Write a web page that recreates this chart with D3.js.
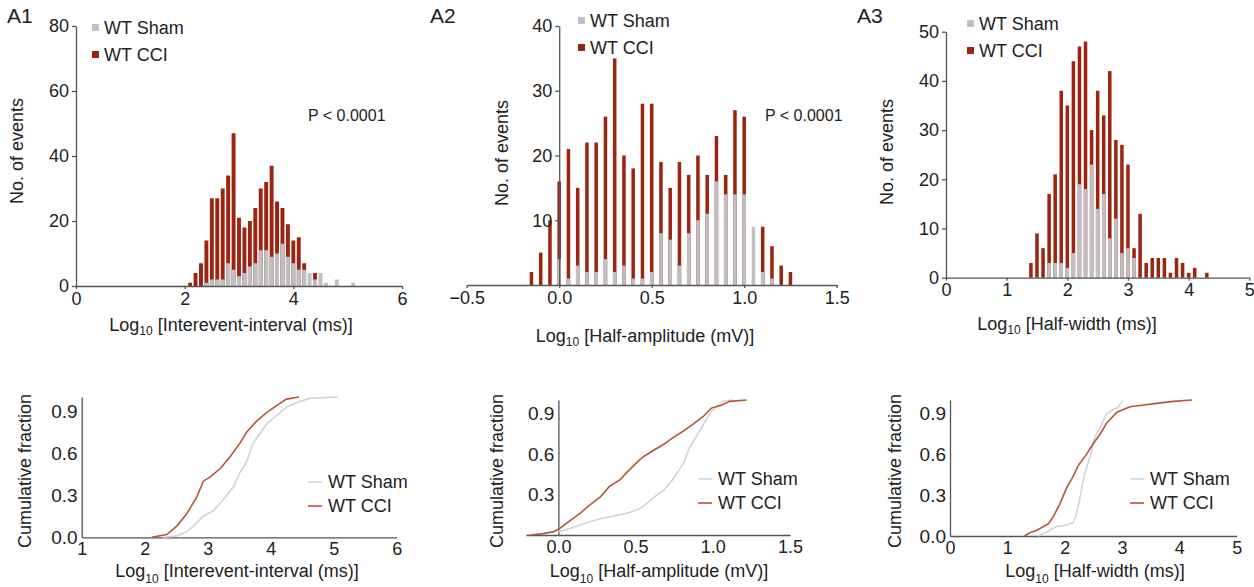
<!DOCTYPE html>
<html>
<head>
<meta charset="utf-8">
<script src="https://cdn.jsdelivr.net/npm/d3@7"></script>
<style>
  body { margin: 0; background: #fff; }
  svg { display: block; font-family: "Liberation Sans", Arial, sans-serif; }
  .axis path, .axis line { stroke: #555; stroke-width: 1.3; }
  .axis text { fill: #222; font-size: 18px; font-family: "Liberation Sans", Arial, sans-serif; }
</style>
</head>
<body>
<svg id="fig" width="1254" height="587"></svg>
<script>
// ---- histogram data (bin centres, counts) ----
const a1Bins = [2.1, 2.2, 2.3, 2.4, 2.5, 2.6, 2.7, 2.8, 2.9, 3.0, 3.1, 3.2, 3.3, 3.4, 3.5, 3.6, 3.7, 3.8, 3.9, 4.0, 4.1, 4.2, 4.3, 4.4, 4.5, 4.6, 4.7, 4.8, 4.9, 5.0, 5.1];
const a1Cci  = [1, 4, 7, 14, 27, 27, 30, 34, 47, 21, 18, 20, 24, 30, 32, 37, 26, 24, 19, 14, 15, 7, 0, 4, 0, 0, 0, 0, 0, 0, 0];
const a1Sham = [0, 0, 0, 1, 2, 2, 2, 7, 5, 3, 4, 6, 7, 11, 11, 9, 10, 13, 9, 7, 5, 5, 4, 2, 4, 1, 0, 2, 0, 0, 1];

const a2Bins = [-0.15, -0.1, -0.05, 0.0, 0.05, 0.1, 0.15, 0.2, 0.25, 0.3, 0.35, 0.4, 0.45, 0.5, 0.55, 0.6, 0.65, 0.7, 0.75, 0.8, 0.85, 0.9, 0.95, 1.0, 1.05, 1.1, 1.15, 1.2, 1.25];
const a2Cci  = [2, 5, 10, 16, 21, 15, 22, 22, 26, 35, 20, 18, 28, 28, 19, 15, 19, 17, 20, 17, 23, 17, 27, 26, 0, 9, 6, 3, 2];
const a2Sham = [0, 0, 0, 4, 1, 3, 2, 2, 4, 2, 3, 1, 1, 2, 8, 7, 3, 8, 10, 11, 16, 14, 14, 14, 9, 2, 1, 0, 0];

const a3Bins = [1.4, 1.5, 1.6, 1.7, 1.8, 1.9, 2.0, 2.1, 2.2, 2.3, 2.4, 2.5, 2.6, 2.7, 2.8, 2.9, 3.0, 3.1, 3.2, 3.3, 3.4, 3.5, 3.6, 3.7, 3.8, 3.9, 4.0, 4.1, 4.2, 4.3];
const a3Cci  = [3, 9, 6, 17, 21, 38, 35, 44, 47, 48, 30, 38, 33, 42, 28, 27, 23, 6, 13, 3, 4, 4, 4, 1, 4, 3, 1, 2, 0, 1];
const a3Sham = [0, 0, 0, 3, 3, 3, 2, 5, 19, 18, 23, 14, 17, 8, 12, 5, 6, 4, 0, 0, 0, 0, 0, 0, 0, 0, 0, 0, 0, 0];

// ---- cumulative fraction data (x, fraction) ----
const c1CciX  = [2.11, 2.35, 2.51, 2.67, 2.83, 2.93, 3.04, 3.2, 3.35, 3.51, 3.62, 3.78, 3.94, 4.1, 4.25, 4.45];
const c1CciY  = [0, 0.02, 0.08, 0.17, 0.29, 0.40, 0.43, 0.49, 0.57, 0.67, 0.75, 0.83, 0.89, 0.94, 0.985, 1.0];
const c1ShamX = [2.3, 2.51, 2.67, 2.77, 2.93, 3.09, 3.25, 3.41, 3.51, 3.62, 3.72, 3.83, 3.94, 4.1, 4.25, 4.47, 4.62, 5.07];
const c1ShamY = [0, 0.01, 0.04, 0.08, 0.15, 0.19, 0.27, 0.36, 0.46, 0.54, 0.67, 0.74, 0.81, 0.87, 0.93, 0.97, 0.99, 1.0];

const c2CciX  = [-0.18, -0.1, -0.03, 0.01, 0.08, 0.14, 0.2, 0.27, 0.33, 0.4, 0.44, 0.51, 0.55, 0.62, 0.68, 0.74, 0.81, 0.87, 0.94, 0.99, 1.05, 1.11, 1.22];
const c2CciY  = [0, 0.01, 0.025, 0.05, 0.11, 0.16, 0.22, 0.28, 0.36, 0.41, 0.46, 0.54, 0.58, 0.63, 0.67, 0.72, 0.77, 0.82, 0.88, 0.94, 0.96, 0.99, 1.0];
const c2ShamX = [0, 0.08, 0.18, 0.27, 0.36, 0.44, 0.52, 0.57, 0.62, 0.68, 0.74, 0.81, 0.85, 0.92, 0.98, 1.03, 1.07, 1.13];
const c2ShamY = [0.025, 0.05, 0.09, 0.12, 0.14, 0.16, 0.19, 0.23, 0.28, 0.33, 0.41, 0.53, 0.65, 0.78, 0.9, 0.96, 0.995, 1.0];

const c3CciX  = [1.3, 1.4, 1.51, 1.63, 1.72, 1.8, 1.92, 2.03, 2.15, 2.24, 2.38, 2.5, 2.62, 2.73, 2.91, 3.14, 3.31, 3.6, 3.9, 4.22];
const c3CciY  = [0, 0.025, 0.04, 0.07, 0.09, 0.14, 0.24, 0.35, 0.44, 0.52, 0.6, 0.68, 0.75, 0.83, 0.91, 0.95, 0.96, 0.975, 0.99, 1.0];
const c3ShamX = [1.54, 1.69, 1.86, 2.03, 2.15, 2.21, 2.27, 2.35, 2.44, 2.53, 2.62, 2.73, 2.85, 2.94, 3.01];
const c3ShamY = [0, 0.03, 0.07, 0.08, 0.1, 0.17, 0.29, 0.46, 0.58, 0.73, 0.8, 0.9, 0.93, 0.95, 0.995];

// ---- tick labels ----
const a1XTicks = [0, 2, 4, 6];
const a1YTicks = [0, 20, 40, 60, 80];
const a2XTicks = [-0.5, 0.0, 0.5, 1.0, 1.5];
const a2YTicks = [10, 20, 30, 40];
const a3XTicks = [0, 1, 2, 3, 4, 5];
const a3YTicks = [0, 10, 20, 30, 40, 50];
const c1XTicks = [1, 2, 3, 4, 5, 6];
const c2XTicks = [0.0, 0.5, 1.0, 1.5];
const c3XTicks = [0, 1, 2, 3, 4, 5];
const cumYTicks = [0.0, 0.3, 0.6, 0.9];
const c2YTicks = [0.3, 0.6, 0.9];
const seriesNames = ["WT Sham", "WT CCI"];

const RED = "#9b2511";
const GRAY = "#bfc0c4";
const LRED = "#b8543a";
const LGRAY = "#d3d3d3";
const TXT = "#222";

const svg = d3.select("#fig");

function logTitle(g, x, y, rest, subDy) {
  const t = g.append("text").attr("x", x).attr("y", y)
    .attr("text-anchor", "middle").attr("fill", TXT).style("font-size", "18px");
  t.append("tspan").text("Log");
  t.append("tspan").text("10").style("font-size", "12px").attr("dy", subDy);
  t.append("tspan").text(" " + rest).attr("dy", -subDy);
}

function yTitle(g, x, y, label) {
  g.append("text").attr("transform", `translate(${x},${y}) rotate(-90)`)
    .attr("text-anchor", "middle").attr("fill", TXT).style("font-size", "18px").text(label);
}

function hist(p) {
  const x = d3.scaleLinear().domain(p.xDomain).range(p.xRange);
  const y = d3.scaleLinear().domain(p.yDomain).range(p.yRange);
  const g = svg.append("g");
  const bw = (x(p.step) - x(0)) * p.frac;
  const rows = p.bins.map((b, i) => ({ b, cci: p.cci[i], sham: p.sham[i] }));

  g.selectAll(".cci").data(rows).join("rect")
    .attr("x", d => x(d.b) - bw / 2).attr("y", d => y(d.cci))
    .attr("width", bw).attr("height", d => y(0) - y(d.cci))
    .attr("fill", RED);
  g.selectAll(".sham").data(rows).join("rect")
    .attr("x", d => x(d.b) - bw / 2).attr("y", d => y(d.sham))
    .attr("width", bw).attr("height", d => y(0) - y(d.sham))
    .attr("fill", GRAY);

  g.append("g").attr("class", "axis").attr("transform", `translate(0,${y(0)})`)
    .call(d3.axisBottom(x).tickValues(p.xTicks).tickFormat(p.xFmt).tickSize(3).tickPadding(3).tickSizeOuter(0));
  g.append("g").attr("class", "axis").attr("transform", `translate(${x(p.yAt)},0)`)
    .call(d3.axisLeft(y).tickValues(p.yTicks).tickFormat(d3.format("d")).tickSize(4).tickPadding(3).tickSizeOuter(0));

  // legend
  seriesNames.forEach((n, i) => {
    g.append("rect").attr("x", p.leg[0]).attr("y", p.leg[1] + i * 27 - 4)
      .attr("width", 7).attr("height", 7).attr("fill", i === 0 ? GRAY : RED);
    g.append("text").attr("x", p.leg[0] + 12).attr("y", p.leg[1] + i * 27 + 6)
      .attr("fill", TXT).style("font-size", "18px").text(n);
  });

  g.append("text").attr("x", p.lab[0]).attr("y", p.lab[1]).attr("fill", TXT)
    .style("font-size", "21px").text(p.label);
  if (p.pval) g.append("text").attr("x", p.pval[0]).attr("y", p.pval[1]).attr("fill", TXT)
    .style("font-size", "16px").text("P < 0.0001");
  yTitle(g, p.yt[0], p.yt[1], "No. of events");
  logTitle(g, p.xt[0], p.xt[1], p.xTitle, 4);
}

function cum(p) {
  const x = d3.scaleLinear().domain(p.xDomain).range(p.xRange);
  const y = d3.scaleLinear().domain([0, 1]).range(p.yRange);
  const g = svg.append("g");
  const line = d3.line().x(d => x(d[0])).y(d => y(d[1]));

  g.append("g").attr("class", "axis").attr("transform", `translate(0,${y(0)})`)
    .call(d3.axisBottom(x).tickValues(p.xTicks).tickFormat(p.xFmt).tickSize(0).tickPadding(5).tickSizeOuter(0));
  g.append("g").attr("class", "axis").attr("transform", `translate(${x(p.yAt)},0)`)
    .call(d3.axisLeft(y).tickValues(p.yTicks).tickFormat(d3.format(".1f")).tickSize(0).tickPadding(4).tickSizeOuter(0))
    .selectAll("text").style("font-size", "19px");

  g.append("path").datum(p.shamX.map((v, i) => [v, p.shamY[i]]))
    .attr("fill", "none").attr("stroke", LGRAY).attr("stroke-width", 1.6).attr("d", line);
  g.append("path").datum(p.cciX.map((v, i) => [v, p.cciY[i]]))
    .attr("fill", "none").attr("stroke", LRED).attr("stroke-width", 1.6).attr("d", line);

  seriesNames.forEach((n, i) => {
    g.append("line").attr("x1", p.leg[0]).attr("x2", p.leg[0] + 14)
      .attr("y1", p.leg[1] + i * 24).attr("y2", p.leg[1] + i * 24)
      .attr("stroke", i === 0 ? LGRAY : LRED).attr("stroke-width", 1.6);
    g.append("text").attr("x", p.leg[0] + 20).attr("y", p.leg[1] + i * 24 + 6)
      .attr("fill", TXT).style("font-size", "18px").text(n);
  });

  yTitle(g, p.yt[0], p.yt[1], "Cumulative fraction");
  logTitle(g, p.xt[0], p.xt[1], p.xTitle, 6);
}

const f1 = d3.format("d"), f2 = d3.format(".1f");

hist({ bins: a1Bins, cci: a1Cci, sham: a1Sham, step: 0.1, frac: 0.72,
  xDomain: [0, 6], xRange: [76, 402], yDomain: [0, 80], yRange: [286, 26], yAt: 0,
  xTicks: a1XTicks, xFmt: f1, yTicks: a1YTicks,
  leg: [92, 28], lab: [7, 23], label: "A1", pval: [308, 121], yt: [23, 151], xt: [231, 331],
  xTitle: "[Interevent-interval (ms)]" });

hist({ bins: a2Bins, cci: a2Cci, sham: a2Sham, step: 0.05, frac: 0.38,
  xDomain: [-0.5, 1.5], xRange: [466.7, 836.7], yDomain: [0, 40], yRange: [285, 26], yAt: 0,
  xTicks: a2XTicks, xFmt: f2, yTicks: a2YTicks,
  leg: [578, 21], lab: [430, 23], label: "A2", pval: [765, 121], yt: [508, 153], xt: [645, 342],
  xTitle: "[Half-amplitude (mV)]" });

hist({ bins: a3Bins, cci: a3Cci, sham: a3Sham, step: 0.1, frac: 0.58,
  xDomain: [0, 5], xRange: [946, 1249.3], yDomain: [0, 50], yRange: [277.7, 31.7], yAt: 0,
  xTicks: a3XTicks, xFmt: f1, yTicks: a3YTicks,
  leg: [967, 24], lab: [857, 23], label: "A3", yt: [893, 152], xt: [1067, 330],
  xTitle: "[Half-width (ms)]" });

cum({ cciX: c1CciX, cciY: c1CciY, shamX: c1ShamX, shamY: c1ShamY, yTicks: cumYTicks,
  xDomain: [1, 6], xRange: [81.7, 396.7], yRange: [537.3, 397], yAt: 1,
  xTicks: c1XTicks, xFmt: f1, leg: [308, 482], yt: [31, 471], xt: [237, 577],
  xTitle: "[Interevent-interval (ms)]" });

cum({ cciX: c2CciX, cciY: c2CciY, shamX: c2ShamX, shamY: c2ShamY, yTicks: c2YTicks,
  xDomain: [-0.21, 1.5], xRange: [526, 790], yRange: [535, 400], yAt: 0,
  xTicks: c2XTicks, xFmt: f2, leg: [698, 479], yt: [503, 471], xt: [659, 577],
  xTitle: "[Half-amplitude (mV)]" });

cum({ cciX: c3CciX, cciY: c3CciY, shamX: c3ShamX, shamY: c3ShamY, yTicks: cumYTicks,
  xDomain: [0, 5], xRange: [950, 1236.7], yRange: [536, 400], yAt: 0,
  xTicks: c3XTicks, xFmt: f1, leg: [1130, 479], yt: [901, 471], xt: [1095, 577],
  xTitle: "[Half-width (ms)]" });
</script>
</body>
</html>
